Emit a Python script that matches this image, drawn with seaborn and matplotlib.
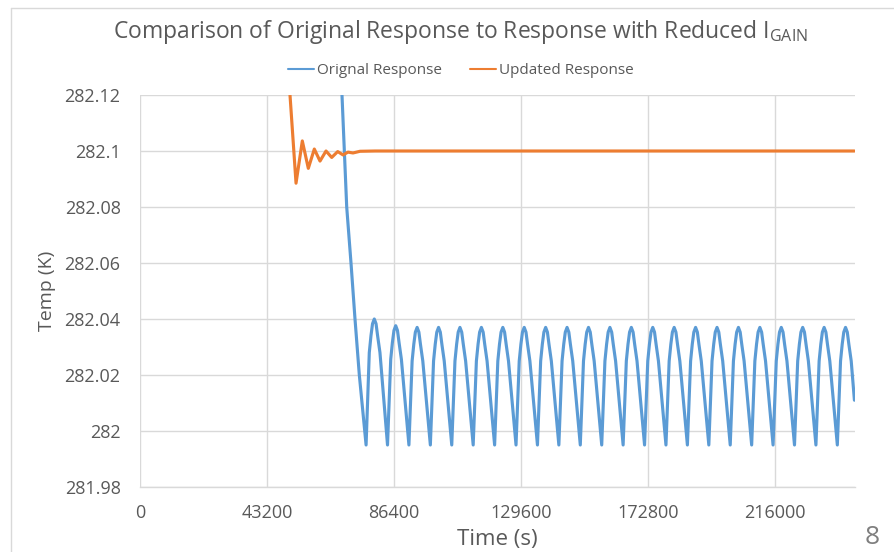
import numpy as np
import pandas as pd
import seaborn as sns
import matplotlib
matplotlib.use('Agg')
import matplotlib.pyplot as plt
from matplotlib.lines import Line2D

'''
data read off the chart: time in s, temp in K
'''
# original response (blue): steep drop then a steady oscillation
# one line per cycle: trough, rising flank, peak, falling flank
orig_time = [67500, 68710, 69500, 70310, 71770, 73130, 74600,
             76900, 77990, 78560, 79090, 79690, 80290, 80820, 81620, 83090,
             84190, 85280, 85850, 86380, 86980, 87580, 88110, 88910, 90380,
             91470, 92560, 93130, 93660, 94260, 94860, 95390, 96190, 97660,
             98760, 99850, 100420, 100950, 101550, 102150, 102680, 103480, 104950,
             106040, 107130, 107700, 108230, 108830, 109430, 109960, 110760, 112230,
             113330, 114420, 114990, 115520, 116120, 116720, 117250, 118050, 119520,
             120620, 121710, 122280, 122810, 123410, 124010, 124540, 125340, 126810,
             127900, 128990, 129560, 130090, 130690, 131290, 131820, 132620, 134090,
             135190, 136280, 136850, 137380, 137980, 138580, 139110, 139910, 141380,
             142470, 143560, 144130, 144660, 145260, 145860, 146390, 147190, 148660,
             149760, 150850, 151420, 151950, 152550, 153150, 153680, 154480, 155950,
             157050, 158140, 158710, 159240, 159840, 160440, 160970, 161770, 163240,
             164330, 165420, 165990, 166520, 167120, 167720, 168250, 169050, 170520,
             171620, 172710, 173280, 173810, 174410, 175010, 175540, 176340, 177810,
             178900, 179990, 180560, 181090, 181690, 182290, 182820, 183620, 185090,
             186190, 187280, 187850, 188380, 188980, 189580, 190110, 190910, 192380,
             193480, 194570, 195140, 195670, 196270, 196870, 197400, 198200, 199670,
             200760, 201850, 202420, 202950, 203550, 204150, 204680, 205480, 206950,
             208050, 209140, 209710, 210240, 210840, 211440, 211970, 212770, 214240,
             215330, 216420, 216990, 217520, 218120, 218720, 219250, 220050, 221520,
             222620, 223710, 224280, 224810, 225410, 226010, 226540, 227340, 228810,
             229910, 231000, 231570, 232100, 232700, 233300, 233830, 234630, 236100,
             237190, 238280, 238850, 239380, 239980, 240580, 241110, 241910,
             243000]
orig_temp = [282.150, 282.120, 282.100, 282.080, 282.060, 282.040, 282.020,
             281.995, 282.028, 282.034, 282.0383, 282.040, 282.0383, 282.034, 282.028, 282.009,
             281.995, 282.0256, 282.0316, 282.0359, 282.0376, 282.0359, 282.0316, 282.0256, 282.008,
             281.995, 282.025, 282.031, 282.0353, 282.037, 282.0353, 282.031, 282.025, 282.008,
             281.995, 282.025, 282.031, 282.0353, 282.037, 282.0353, 282.031, 282.025, 282.008,
             281.995, 282.025, 282.031, 282.0353, 282.037, 282.0353, 282.031, 282.025, 282.008,
             281.995, 282.025, 282.031, 282.0353, 282.037, 282.0353, 282.031, 282.025, 282.008,
             281.995, 282.025, 282.031, 282.0353, 282.037, 282.0353, 282.031, 282.025, 282.008,
             281.995, 282.025, 282.031, 282.0353, 282.037, 282.0353, 282.031, 282.025, 282.008,
             281.995, 282.025, 282.031, 282.0353, 282.037, 282.0353, 282.031, 282.025, 282.008,
             281.995, 282.025, 282.031, 282.0353, 282.037, 282.0353, 282.031, 282.025, 282.008,
             281.995, 282.025, 282.031, 282.0353, 282.037, 282.0353, 282.031, 282.025, 282.008,
             281.995, 282.025, 282.031, 282.0353, 282.037, 282.0353, 282.031, 282.025, 282.008,
             281.995, 282.025, 282.031, 282.0353, 282.037, 282.0353, 282.031, 282.025, 282.008,
             281.995, 282.025, 282.031, 282.0353, 282.037, 282.0353, 282.031, 282.025, 282.008,
             281.995, 282.025, 282.031, 282.0353, 282.037, 282.0353, 282.031, 282.025, 282.008,
             281.995, 282.025, 282.031, 282.0353, 282.037, 282.0353, 282.031, 282.025, 282.008,
             281.995, 282.025, 282.031, 282.0353, 282.037, 282.0353, 282.031, 282.025, 282.008,
             281.995, 282.025, 282.031, 282.0353, 282.037, 282.0353, 282.031, 282.025, 282.008,
             281.995, 282.025, 282.031, 282.0353, 282.037, 282.0353, 282.031, 282.025, 282.008,
             281.995, 282.025, 282.031, 282.0353, 282.037, 282.0353, 282.031, 282.025, 282.008,
             281.995, 282.025, 282.031, 282.0353, 282.037, 282.0353, 282.031, 282.025, 282.008,
             281.995, 282.025, 282.031, 282.0353, 282.037, 282.0353, 282.031, 282.025, 282.008,
             281.995, 282.025, 282.031, 282.0353, 282.037, 282.0353, 282.031, 282.025,
             282.011]

# updated response (orange): damped ringing then flat at 282.1
upd_time = [49500, 51020, 53070, 55210, 57250, 59290, 61230, 63270,
            65210, 67250, 69050, 70750, 72450, 74840, 80000, 120000, 243000]
upd_temp = [282.145, 282.120, 282.0885, 282.1036, 282.0938, 282.1007, 282.0964, 282.1000,
            282.0977, 282.0998, 282.0986, 282.0996, 282.0993, 282.0999, 282.1000, 282.1000, 282.1000]

series_names = ['Orignal Response', 'Updated Response']
colors = ['#5B9BD5', '#ED7D31']

x_ticks = [0, 43200, 86400, 129600, 172800, 216000]
y_ticks = [281.98, 282.0, 282.02, 282.04, 282.06, 282.08, 282.1, 282.12]
y_labels = ['281.98', '282', '282.02', '282.04', '282.06', '282.08', '282.1', '282.12']

df = pd.concat([
    pd.DataFrame({'time': orig_time, 'temp': orig_temp, 'series': series_names[0]}),
    pd.DataFrame({'time': upd_time, 'temp': upd_temp, 'series': series_names[1]}),
])

sns.set_style('white')
plt.rcParams['font.family'] = ['Open Sans', 'DejaVu Sans']
plt.rcParams['mathtext.fontset'] = 'custom'
plt.rcParams['mathtext.rm'] = 'Open Sans'
txt = '#595959'
grid = '#d9d9d9'

fig = plt.figure(figsize=(8.95, 5.52), dpi=100)
ax = fig.add_axes([140 / 895, 1 - 487 / 552, 715 / 895, 392 / 552])

sns.lineplot(data=df, x='time', y='temp', hue='series', palette=colors,
             hue_order=series_names, estimator=None, sort=False,
             linewidth=2.25, legend=False, ax=ax)

ax.set_xlim(0, 243200)
ax.set_ylim(281.98, 282.12)
ax.set_xticks(x_ticks)
ax.set_xticklabels([str(t) for t in x_ticks])
ax.set_yticks(y_ticks)
ax.set_yticklabels(y_labels)
ax.grid(True, color=grid, linewidth=1)
ax.set_axisbelow(True)
for s in ['left', 'right', 'top']:
    ax.spines[s].set_visible(False)
ax.spines['bottom'].set_color(grid)
ax.spines['bottom'].set_linewidth(1)
ax.tick_params(axis='both', length=0, labelsize=13, labelcolor=txt)
ax.tick_params(axis='x', pad=12)
ax.tick_params(axis='y', pad=14)
ax.set_xlabel('Time (s)', fontsize=16, color=txt, labelpad=5)
ax.set_ylabel('Temp (K)', fontsize=14, color=txt, labelpad=6)

fig.text(0.514, 1 - 32 / 552,
         r'Comparison of Original Response to Response with Reduced I$_{\mathrm{GAIN}}$',
         ha='center', va='center', fontsize=16.5, color=txt)

handles = [Line2D([], [], color=c, lw=1.5) for c in colors]
fig.legend(handles, series_names, loc='center', bbox_to_anchor=(0.515, 1 - 71 / 552),
           ncol=2, frameon=False, fontsize=11, labelcolor=txt,
           handlelength=1.7, handletextpad=0.2, columnspacing=1.8)

# slide frame and page number
fig.add_artist(Line2D([11.5 / 895, 11.5 / 895], [0, 1 - 7.5 / 552],
                      transform=fig.transFigure, color=grid, lw=1))
fig.add_artist(Line2D([11.5 / 895, 1], [1 - 7.5 / 552, 1 - 7.5 / 552],
                      transform=fig.transFigure, color=grid, lw=1))
fig.text(872 / 895, 1 - 538 / 552, '8', ha='center', va='center',
         fontsize=19, color='#7f7f7f')

fig.savefig('out.png', dpi=100)
